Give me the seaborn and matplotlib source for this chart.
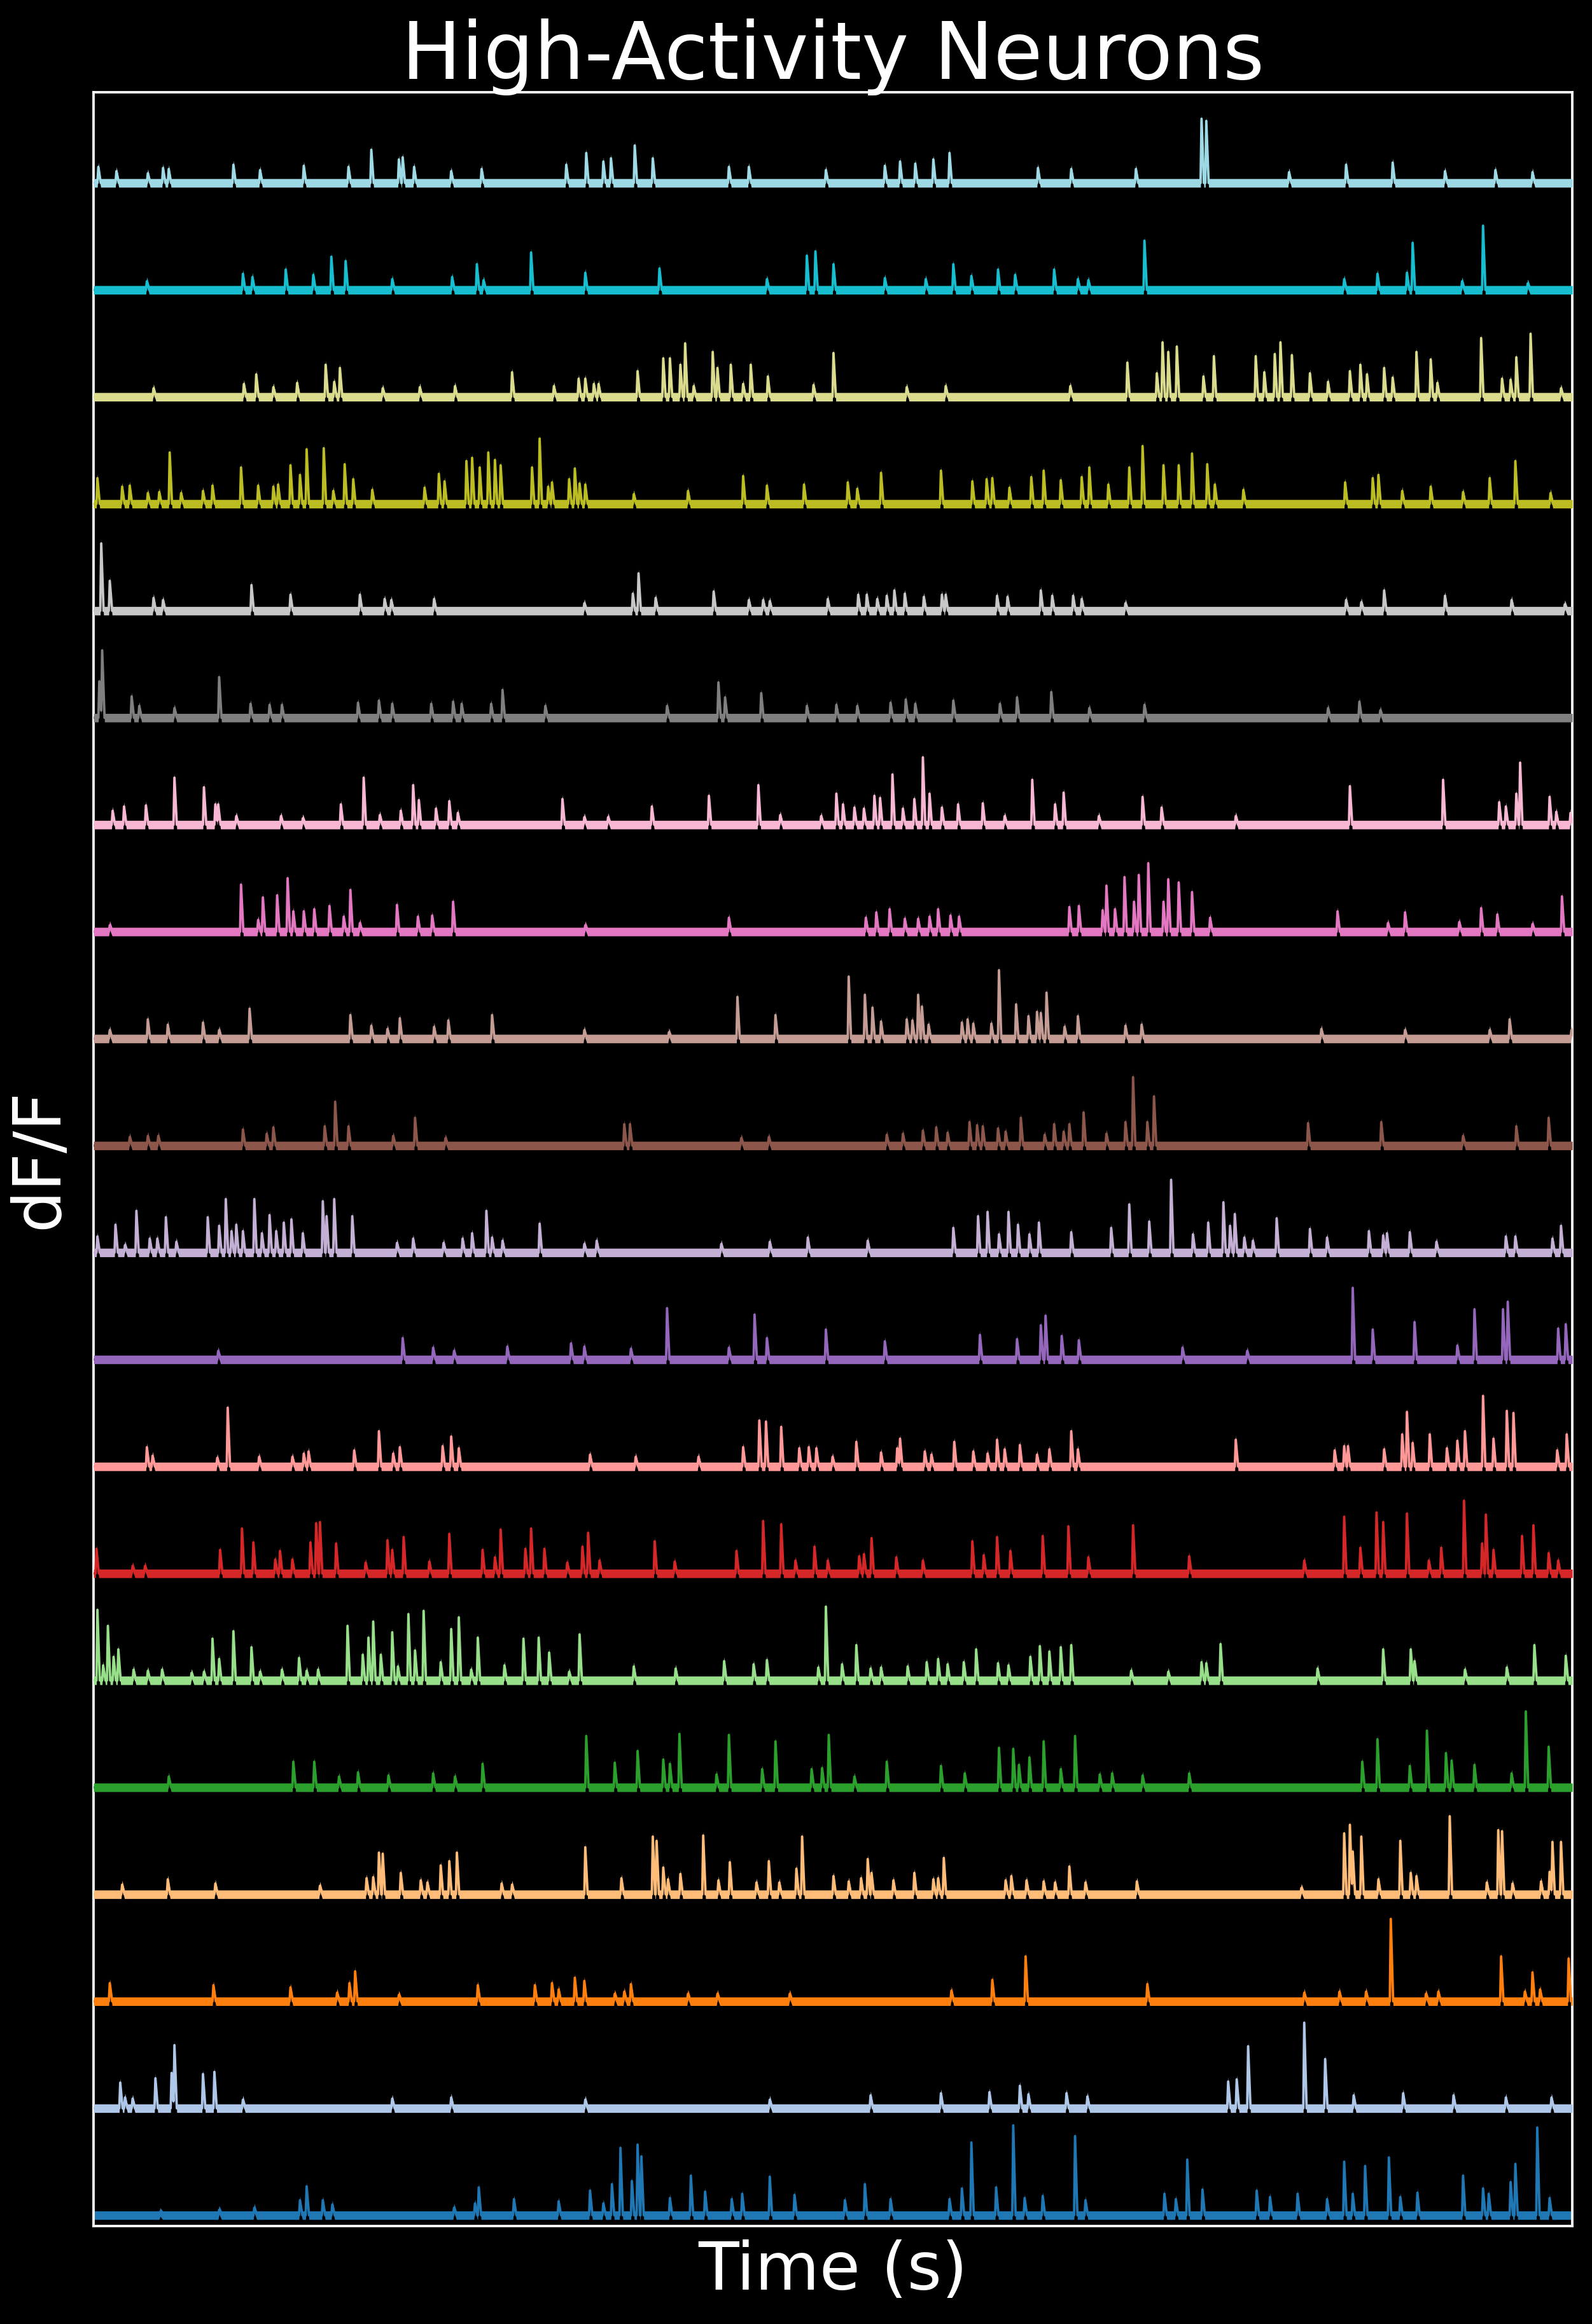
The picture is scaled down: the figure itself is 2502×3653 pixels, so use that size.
import numpy as np
import pandas as pd
import seaborn as sns
import matplotlib.pyplot as plt

# spike (transient) peak times in s and peak heights in dF/F
# neuron 0 is the bottom trace, neuron 19 the top one
n00_t = [70, 132, 169, 217, 224, 241, 251, 379, 401, 405, 442, 489, 522, 536, 545, 554, 566, 572, 576, 606,
         628, 643, 671, 682, 711, 737, 790, 811, 838, 900, 913, 923, 949, 967, 979, 998, 1032, 1043, 1126, 1138,
         1150, 1166, 1223, 1237, 1266, 1297, 1315, 1324, 1337, 1362, 1374, 1392, 1440, 1461, 1467, 1490, 1495, 1518, 1531]
n00_a = [0.03, 0.05, 0.07, 0.14, 0.27, 0.14, 0.10, 0.07, 0.11, 0.26, 0.15, 0.13, 0.23, 0.11, 0.29, 0.63, 0.32, 0.66, 0.55, 0.16,
         0.37, 0.22, 0.15, 0.20, 0.36, 0.19, 0.14, 0.29, 0.15, 0.15, 0.25, 0.68, 0.26, 0.84, 0.16, 0.18, 0.74, 0.14, 0.20, 0.15,
         0.52, 0.24, 0.23, 0.17, 0.20, 0.15, 0.50, 0.20, 0.46, 0.54, 0.17, 0.21, 0.37, 0.25, 0.20, 0.31, 0.48, 0.82, 0.16]

n01_t = [28, 33, 41, 65, 82, 85, 115, 127, 157, 314, 376, 517, 711, 817, 891, 942, 974, 983, 1023, 1045,
         1193, 1202, 1214, 1273, 1295, 1325, 1377, 1430, 1485, 1533]
n01_a = [0.24, 0.10, 0.09, 0.28, 0.33, 0.59, 0.32, 0.34, 0.08, 0.09, 0.10, 0.08, 0.08, 0.12, 0.14, 0.15, 0.21, 0.13, 0.14, 0.11,
         0.25, 0.27, 0.58, 0.80, 0.46, 0.12, 0.14, 0.12, 0.10, 0.10]

n02_t = [17, 126, 207, 256, 269, 275, 321, 404, 464, 482, 489, 506, 516, 548, 558, 565, 625, 656, 732, 902,
         945, 980, 1108, 1273, 1310, 1338, 1364, 1401, 1414, 1480, 1505, 1513, 1521, 1551]
n02_a = [0.17, 0.15, 0.13, 0.08, 0.17, 0.28, 0.06, 0.15, 0.15, 0.17, 0.11, 0.22, 0.19, 0.07, 0.09, 0.16, 0.07, 0.07, 0.07, 0.10,
         0.20, 0.42, 0.16, 0.08, 0.09, 0.09, 0.77, 0.07, 0.09, 0.42, 0.09, 0.27, 0.11, 0.40]

n03_t = [30, 78, 128, 238, 287, 294, 300, 304, 323, 344, 351, 365, 374, 382, 429, 440, 517, 555, 588, 592,
         599, 604, 617, 641, 657, 669, 697, 710, 721, 739, 745, 778, 794, 807, 814, 818, 841, 863, 883, 888,
         894, 959, 965, 981, 999, 1011, 1026, 1043, 1097, 1270, 1315, 1321, 1324, 1333, 1351, 1374, 1385, 1391, 1426, 1465,
         1477, 1481, 1492, 1522, 1531, 1534, 1543]
n03_a = [0.09, 0.14, 0.10, 0.08, 0.15, 0.16, 0.39, 0.38, 0.20, 0.13, 0.11, 0.27, 0.31, 0.39, 0.10, 0.09, 0.44, 0.15, 0.54, 0.50,
         0.25, 0.14, 0.19, 0.55, 0.13, 0.30, 0.11, 0.31, 0.11, 0.24, 0.54, 0.17, 0.12, 0.15, 0.33, 0.20, 0.13, 0.20, 0.14, 0.15,
         0.34, 0.13, 0.17, 0.13, 0.12, 0.11, 0.26, 0.11, 0.12, 0.06, 0.57, 0.65, 0.40, 0.54, 0.14, 0.50, 0.20, 0.17, 0.73, 0.11,
         0.60, 0.59, 0.10, 0.12, 0.21, 0.49, 0.49]

n04_t = [79, 210, 232, 258, 278, 310, 357, 380, 409, 518, 548, 572, 599, 606, 616, 655, 668, 703, 717, 755,
         766, 773, 800, 834, 891, 916, 952, 967, 973, 984, 999, 1017, 1032, 1058, 1071, 1103, 1152, 1334, 1350, 1384,
         1402, 1422, 1428, 1452, 1491, 1506, 1530]
n04_a = [0.10, 0.24, 0.24, 0.10, 0.14, 0.11, 0.13, 0.10, 0.22, 0.48, 0.23, 0.34, 0.26, 0.22, 0.50, 0.12, 0.49, 0.17, 0.43, 0.17,
         0.18, 0.49, 0.10, 0.24, 0.20, 0.13, 0.37, 0.36, 0.21, 0.28, 0.43, 0.17, 0.48, 0.12, 0.13, 0.11, 0.13, 0.24, 0.45, 0.20,
         0.53, 0.32, 0.25, 0.21, 0.13, 0.71, 0.38]

n05_t = [4, 10, 15, 21, 26, 42, 57, 72, 103, 116, 125, 132, 147, 166, 175, 198, 216, 224, 236, 267,
         283, 289, 294, 302, 314, 320, 331, 338, 347, 365, 376, 384, 397, 404, 432, 452, 468, 479, 500, 511,
         568, 612, 663, 694, 708, 762, 770, 787, 802, 817, 828, 856, 876, 888, 898, 915, 928, 951, 962, 985,
         995, 1005, 1017, 1028, 1091, 1130, 1165, 1170, 1185, 1287, 1356, 1385, 1389, 1442, 1486, 1515, 1548]
n05_a = [0.66, 0.14, 0.51, 0.22, 0.29, 0.10, 0.09, 0.10, 0.07, 0.08, 0.39, 0.20, 0.46, 0.31, 0.08, 0.10, 0.21, 0.09, 0.10, 0.51,
         0.24, 0.40, 0.55, 0.24, 0.45, 0.13, 0.62, 0.28, 0.65, 0.17, 0.48, 0.59, 0.10, 0.40, 0.14, 0.39, 0.40, 0.26, 0.08, 0.43,
         0.13, 0.11, 0.18, 0.15, 0.19, 0.12, 0.69, 0.15, 0.33, 0.11, 0.12, 0.13, 0.17, 0.20, 0.15, 0.17, 0.29, 0.16, 0.14, 0.22,
         0.32, 0.27, 0.31, 0.33, 0.09, 0.08, 0.17, 0.16, 0.34, 0.11, 0.29, 0.29, 0.18, 0.10, 0.12, 0.33, 0.23]

n06_t = [3, 41, 54, 133, 156, 168, 191, 196, 209, 228, 234, 238, 255, 286, 309, 314, 326, 353, 374, 409,
         422, 428, 454, 460, 474, 498, 514, 520, 532, 590, 611, 676, 704, 723, 738, 758, 772, 805, 810, 818,
         844, 872, 924, 936, 950, 964, 998, 1025, 1046, 1093, 1152, 1273, 1315, 1332, 1349, 1356, 1381, 1404, 1417, 1441,
         1460, 1464, 1472, 1502, 1514, 1530, 1540]
n06_a = [0.23, 0.07, 0.07, 0.22, 0.42, 0.29, 0.13, 0.21, 0.13, 0.29, 0.47, 0.48, 0.28, 0.10, 0.31, 0.22, 0.34, 0.11, 0.37, 0.22,
         0.15, 0.41, 0.23, 0.42, 0.23, 0.10, 0.25, 0.38, 0.12, 0.30, 0.11, 0.21, 0.49, 0.46, 0.12, 0.25, 0.12, 0.16, 0.18, 0.33,
         0.15, 0.12, 0.30, 0.17, 0.34, 0.21, 0.35, 0.44, 0.15, 0.45, 0.16, 0.12, 0.53, 0.24, 0.57, 0.48, 0.56, 0.12, 0.24, 0.68,
         0.28, 0.55, 0.22, 0.35, 0.45, 0.19, 0.12]

n07_t = [56, 62, 130, 141, 174, 209, 221, 226, 274, 300, 315, 322, 367, 376, 384, 522, 570, 636, 683, 700,
         707, 723, 742, 752, 760, 777, 802, 828, 845, 848, 874, 881, 905, 925, 940, 950, 958, 974, 992, 1005,
         1028, 1035, 1201, 1305, 1315, 1319, 1357, 1376, 1381, 1387, 1405, 1423, 1434, 1442, 1461, 1472, 1486, 1493, 1539, 1549]
n07_a = [0.18, 0.10, 0.08, 0.55, 0.09, 0.09, 0.12, 0.14, 0.15, 0.33, 0.12, 0.18, 0.19, 0.28, 0.17, 0.11, 0.09, 0.09, 0.18, 0.43,
         0.42, 0.37, 0.17, 0.18, 0.17, 0.09, 0.23, 0.13, 0.17, 0.26, 0.14, 0.11, 0.23, 0.14, 0.12, 0.25, 0.16, 0.20, 0.11, 0.16,
         0.33, 0.16, 0.25, 0.15, 0.19, 0.19, 0.16, 0.30, 0.51, 0.22, 0.30, 0.17, 0.24, 0.33, 0.66, 0.26, 0.52, 0.50, 0.15, 0.30]

n08_t = [131, 325, 357, 379, 435, 502, 516, 565, 603, 668, 695, 708, 770, 832, 932, 971, 996, 1001, 1018, 1036,
         1145, 1213, 1324, 1345, 1389, 1434, 1452, 1482, 1487, 1540, 1548]
n08_a = [0.08, 0.20, 0.11, 0.08, 0.12, 0.15, 0.12, 0.10, 0.48, 0.11, 0.42, 0.20, 0.28, 0.17, 0.23, 0.19, 0.32, 0.41, 0.22, 0.18,
         0.11, 0.08, 0.67, 0.28, 0.35, 0.13, 0.47, 0.47, 0.54, 0.29, 0.33]

n09_t = [4, 23, 33, 45, 59, 67, 76, 87, 120, 132, 139, 145, 150, 157, 169, 177, 185, 192, 200, 208,
         220, 241, 245, 253, 272, 319, 336, 368, 388, 398, 413, 419, 430, 469, 516, 529, 660, 711, 751, 814,
         904, 930, 940, 952, 962, 972, 984, 994, 1028, 1070, 1089, 1110, 1133, 1156, 1172, 1188, 1195, 1200, 1210, 1219,
         1244, 1279, 1297, 1341, 1356, 1360, 1384, 1412, 1485, 1495, 1534, 1543]
n09_a = [0.15, 0.26, 0.07, 0.39, 0.13, 0.13, 0.33, 0.10, 0.33, 0.25, 0.50, 0.20, 0.26, 0.20, 0.50, 0.18, 0.35, 0.20, 0.28, 0.31,
         0.18, 0.48, 0.34, 0.50, 0.34, 0.09, 0.13, 0.09, 0.13, 0.18, 0.39, 0.14, 0.11, 0.27, 0.08, 0.11, 0.08, 0.10, 0.14, 0.11,
         0.23, 0.34, 0.38, 0.17, 0.38, 0.26, 0.17, 0.28, 0.19, 0.23, 0.45, 0.29, 0.68, 0.17, 0.28, 0.47, 0.25, 0.36, 0.14, 0.11,
         0.32, 0.22, 0.14, 0.20, 0.16, 0.18, 0.19, 0.10, 0.15, 0.15, 0.13, 0.25]

n10_t = [38, 57, 68, 157, 182, 189, 243, 254, 268, 315, 338, 370, 558, 564, 681, 710, 834, 851, 872, 886,
         898, 921, 929, 935, 951, 959, 975, 1000, 1010, 1020, 1026, 1041, 1065, 1085, 1093, 1108, 1115, 1277, 1354, 1440,
         1496, 1530]
n10_a = [0.08, 0.09, 0.09, 0.15, 0.11, 0.17, 0.18, 0.41, 0.18, 0.09, 0.26, 0.07, 0.20, 0.20, 0.07, 0.08, 0.10, 0.11, 0.14, 0.17,
         0.12, 0.22, 0.19, 0.18, 0.16, 0.13, 0.26, 0.10, 0.20, 0.13, 0.20, 0.31, 0.11, 0.22, 0.64, 0.22, 0.46, 0.21, 0.22, 0.09,
         0.18, 0.26]

n11_t = [17, 57, 78, 115, 132, 164, 270, 292, 309, 322, 358, 373, 419, 516, 605, 677, 717, 794, 811, 819,
         828, 855, 861, 867, 871, 878, 913, 919, 925, 944, 952, 970, 983, 992, 996, 1002, 1021, 1035, 1085, 1102,
         1291, 1379, 1468, 1489, 1554]
n11_a = [0.08, 0.18, 0.13, 0.15, 0.08, 0.28, 0.22, 0.12, 0.09, 0.19, 0.11, 0.17, 0.22, 0.08, 0.06, 0.39, 0.22, 0.58, 0.41, 0.29,
         0.16, 0.18, 0.17, 0.41, 0.30, 0.13, 0.15, 0.18, 0.14, 0.14, 0.64, 0.32, 0.21, 0.25, 0.24, 0.43, 0.11, 0.21, 0.12, 0.13,
         0.09, 0.08, 0.08, 0.18, 0.08]

n12_t = [17, 155, 173, 178, 193, 204, 210, 221, 232, 248, 263, 270, 280, 319, 341, 356, 378, 517, 668, 812,
         823, 837, 853, 867, 879, 888, 901, 910, 1026, 1036, 1061, 1065, 1074, 1084, 1094, 1099, 1109, 1125, 1130, 1141,
         1155, 1174, 1308, 1361, 1379, 1436, 1459, 1476, 1513, 1544]
n12_a = [0.06, 0.44, 0.11, 0.32, 0.34, 0.50, 0.19, 0.19, 0.21, 0.24, 0.14, 0.39, 0.08, 0.25, 0.14, 0.15, 0.28, 0.06, 0.13, 0.13,
         0.18, 0.21, 0.12, 0.12, 0.14, 0.21, 0.15, 0.14, 0.23, 0.24, 0.20, 0.43, 0.21, 0.51, 0.28, 0.53, 0.64, 0.28, 0.49, 0.46,
         0.37, 0.13, 0.19, 0.08, 0.18, 0.09, 0.22, 0.16, 0.07, 0.33]

n13_t = [20, 32, 55, 85, 116, 128, 131, 150, 197, 220, 260, 284, 301, 323, 336, 342, 360, 374, 383, 493,
         516, 541, 587, 647, 699, 722, 765, 781, 788, 800, 810, 821, 827, 840, 851, 863, 872, 879, 892, 909,
         935, 958, 987, 1011, 1020, 1057, 1103, 1123, 1201, 1321, 1419, 1478, 1485, 1496, 1500, 1531, 1538, 1553]
n13_a = [0.13, 0.17, 0.18, 0.44, 0.35, 0.19, 0.19, 0.08, 0.08, 0.06, 0.19, 0.44, 0.09, 0.13, 0.37, 0.23, 0.15, 0.22, 0.11, 0.24,
         0.07, 0.07, 0.17, 0.27, 0.37, 0.09, 0.08, 0.29, 0.19, 0.16, 0.15, 0.27, 0.25, 0.47, 0.15, 0.24, 0.63, 0.29, 0.16, 0.19,
         0.20, 0.08, 0.42, 0.19, 0.30, 0.08, 0.26, 0.16, 0.08, 0.36, 0.42, 0.21, 0.17, 0.29, 0.58, 0.26, 0.12, 0.11]

n14_t = [6, 9, 40, 48, 85, 132, 165, 185, 198, 278, 300, 314, 355, 378, 387, 418, 430, 475, 603, 657,
         664, 702, 750, 781, 803, 838, 854, 864, 904, 953, 971, 1007, 1047, 1105, 1298, 1331, 1353]
n14_a = [0.34, 0.63, 0.20, 0.11, 0.09, 0.38, 0.13, 0.12, 0.12, 0.14, 0.16, 0.13, 0.13, 0.15, 0.13, 0.13, 0.26, 0.11, 0.11, 0.33,
         0.19, 0.23, 0.11, 0.12, 0.11, 0.14, 0.17, 0.13, 0.16, 0.13, 0.19, 0.24, 0.09, 0.12, 0.09, 0.15, 0.07]

n15_t = [8, 17, 63, 73, 166, 207, 280, 306, 313, 358, 516, 567, 573, 591, 652, 689, 704, 711, 772, 804,
         813, 824, 834, 842, 853, 873, 892, 896, 950, 961, 996, 1008, 1030, 1039, 1085, 1317, 1333, 1357, 1421, 1491,
         1547]
n15_a = [0.63, 0.28, 0.12, 0.10, 0.24, 0.15, 0.15, 0.11, 0.10, 0.11, 0.07, 0.16, 0.35, 0.12, 0.18, 0.10, 0.10, 0.09, 0.11, 0.15,
         0.15, 0.11, 0.14, 0.19, 0.16, 0.13, 0.15, 0.15, 0.14, 0.13, 0.19, 0.14, 0.14, 0.11, 0.07, 0.10, 0.08, 0.19, 0.14, 0.10,
         0.06]

n16_t = [4, 30, 38, 57, 69, 80, 92, 115, 125, 155, 173, 189, 194, 207, 217, 224, 242, 252, 264, 273,
         293, 348, 363, 369, 392, 398, 406, 415, 422, 428, 461, 469, 478, 482, 500, 506, 511, 517, 568, 625,
         683, 708, 747, 793, 803, 828, 891, 924, 939, 945, 963, 986, 999, 1017, 1039, 1047, 1067, 1089, 1103, 1125,
         1141, 1155, 1171, 1179, 1209, 1316, 1345, 1351, 1376, 1406, 1440, 1468, 1495, 1532]
n16_a = [0.24, 0.16, 0.17, 0.10, 0.11, 0.48, 0.10, 0.12, 0.17, 0.34, 0.17, 0.16, 0.18, 0.36, 0.27, 0.51, 0.52, 0.12, 0.37, 0.23,
         0.13, 0.15, 0.28, 0.21, 0.40, 0.43, 0.34, 0.48, 0.41, 0.36, 0.34, 0.61, 0.16, 0.20, 0.23, 0.33, 0.19, 0.18, 0.09, 0.12,
         0.26, 0.17, 0.18, 0.20, 0.14, 0.29, 0.31, 0.21, 0.23, 0.24, 0.15, 0.25, 0.31, 0.22, 0.25, 0.34, 0.18, 0.34, 0.54, 0.36,
         0.36, 0.47, 0.37, 0.18, 0.13, 0.20, 0.24, 0.27, 0.12, 0.16, 0.11, 0.24, 0.40, 0.10]

n17_t = [63, 158, 171, 189, 214, 244, 253, 259, 304, 343, 380, 440, 484, 510, 517, 526, 531, 572, 599, 606,
         617, 622, 631, 651, 656, 670, 683, 691, 709, 757, 778, 855, 896, 1027, 1087, 1118, 1124, 1130, 1139, 1167,
         1178, 1222, 1231, 1242, 1248, 1260, 1279, 1298, 1321, 1332, 1339, 1357, 1366, 1391, 1406, 1413, 1459, 1481, 1490, 1496,
         1511, 1543]
n17_a = [0.08, 0.12, 0.21, 0.09, 0.13, 0.30, 0.14, 0.27, 0.08, 0.09, 0.10, 0.23, 0.10, 0.17, 0.17, 0.12, 0.12, 0.24, 0.36, 0.36,
         0.30, 0.50, 0.10, 0.42, 0.27, 0.30, 0.12, 0.30, 0.19, 0.11, 0.41, 0.09, 0.10, 0.10, 0.32, 0.22, 0.51, 0.42, 0.47, 0.19,
         0.38, 0.38, 0.23, 0.40, 0.51, 0.39, 0.22, 0.14, 0.24, 0.30, 0.21, 0.27, 0.18, 0.42, 0.35, 0.13, 0.55, 0.17, 0.16, 0.37,
         0.59, 0.08]

n18_t = [56, 157, 167, 202, 231, 250, 265, 314, 377, 403, 410, 460, 517, 595, 708, 750, 759, 778, 832, 875,
         904, 923, 951, 969, 1010, 1035, 1046, 1105, 1315, 1350, 1381, 1387, 1439, 1461, 1508]
n18_a = [0.08, 0.15, 0.12, 0.19, 0.14, 0.31, 0.27, 0.10, 0.12, 0.24, 0.09, 0.35, 0.16, 0.20, 0.10, 0.32, 0.36, 0.24, 0.11, 0.10,
         0.24, 0.13, 0.19, 0.14, 0.19, 0.10, 0.09, 0.46, 0.10, 0.15, 0.16, 0.44, 0.08, 0.60, 0.06]

n19_t = [5, 24, 57, 73, 79, 147, 175, 221, 268, 292, 321, 325, 337, 376, 408, 497, 518, 536, 544, 569,
         588, 668, 689, 770, 832, 848, 864, 883, 900, 993, 1028, 1096, 1165, 1170, 1257, 1317, 1366, 1421, 1474, 1513]
n19_a = [0.15, 0.11, 0.09, 0.14, 0.13, 0.17, 0.12, 0.16, 0.15, 0.31, 0.22, 0.24, 0.15, 0.11, 0.13, 0.17, 0.28, 0.20, 0.23, 0.35,
         0.23, 0.15, 0.15, 0.12, 0.16, 0.20, 0.18, 0.22, 0.28, 0.14, 0.13, 0.13, 0.60, 0.58, 0.10, 0.17, 0.19, 0.11, 0.12, 0.10]

spike_times = [n00_t, n01_t, n02_t, n03_t, n04_t, n05_t, n06_t, n07_t, n08_t, n09_t,
               n10_t, n11_t, n12_t, n13_t, n14_t, n15_t, n16_t, n17_t, n18_t, n19_t]
spike_amps = [n00_a, n01_a, n02_a, n03_a, n04_a, n05_a, n06_a, n07_a, n08_a, n09_a,
              n10_a, n11_a, n12_a, n13_a, n14_a, n15_a, n16_a, n17_a, n18_a, n19_a]
names = ["neuron_%02d" % i for i in range(20)]

T_END = 1555
RISE = 1.0
DECAY = 2.5
BAND = 0.04  # half height of the baseline noise band
time = np.arange(0, T_END + 0.25, 0.25)

rows = []
for i, (ts, amps) in enumerate(zip(spike_times, spike_amps)):
    assert len(ts) == len(amps), names[i]
    y = np.zeros_like(time)
    for t0, a in zip(ts, amps):
        y = np.maximum(y, np.interp(time, [t0 - RISE, t0, t0 + DECAY], [0, a, 0], left=0, right=0))
    rows.append(pd.DataFrame({"neuron": names[i], "time": time, "dff": y + i}))
df = pd.concat(rows, ignore_index=True)

palette = sns.color_palette("tab20", 20)

sns.set_style("dark")
plt.rcParams.update({
    "figure.facecolor": "black",
    "axes.facecolor": "black",
    "axes.edgecolor": "white",
    "text.color": "white",
    "axes.labelcolor": "white",
})

fig = plt.figure(figsize=(10.008, 14.612), dpi=250)
ax = fig.add_axes([0.0588, 0.0422, 0.9289, 0.9182])

for i, name in enumerate(names):
    sub = df[df["neuron"] == name]
    ax.fill_between(sub["time"], sub["dff"] - BAND, sub["dff"] + BAND,
                    color=palette[i], lw=0, zorder=2 + i)

sns.lineplot(data=df, x="time", y="dff", hue="neuron", hue_order=names,
             palette=palette, estimator=None, legend=False, linewidth=1.1, ax=ax)
for i, line in enumerate(ax.get_lines()):
    line.set_zorder(2 + i)

ax.set_xlim(0, T_END)
ax.set_ylim(-0.1, 19.85)
ax.set_xticks([])
ax.set_yticks([])
for s in ax.spines.values():
    s.set_color("white")
    s.set_linewidth(1.1)
    s.set_visible(True)
ax.set_title("High-Activity Neurons", fontsize=36, color="white")
ax.set_xlabel("Time (s)", fontsize=30, labelpad=6)
ax.set_ylabel("dF/F", fontsize=30, labelpad=10)

fig.savefig("out.png", dpi=250, facecolor="black")
